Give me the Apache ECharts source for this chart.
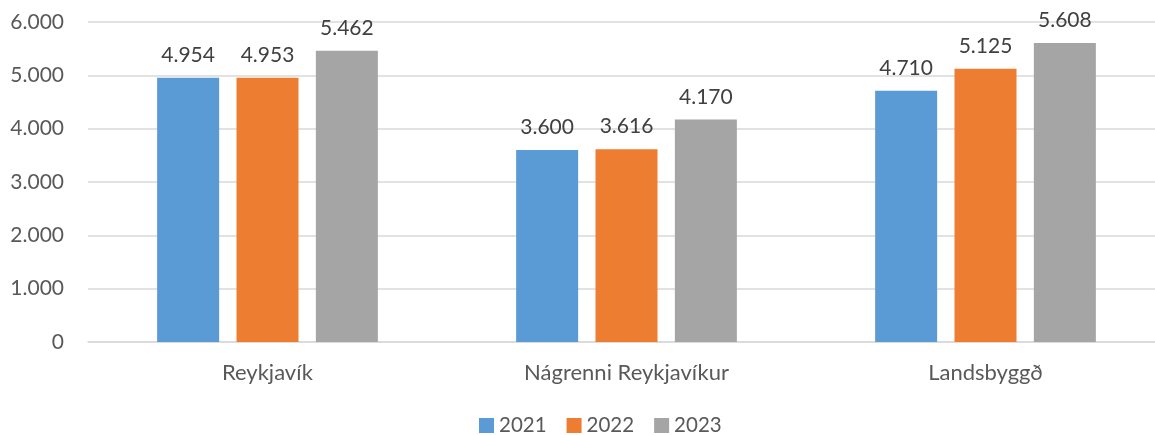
<!DOCTYPE html>
<html><head><meta charset="utf-8">
<script src="https://cdn.jsdelivr.net/npm/echarts@6/dist/echarts.min.js"></script>
<style>html,body{margin:0;padding:0;background:#fff;overflow:hidden}#c{width:1165px;height:435px}</style>
</head><body><div id="c"></div>
<script>
const categories = ['Reykjavík', 'Nágrenni Reykjavíkur', 'Landsbyggð'];
const seriesNames = ['2021', '2022', '2023'];
const values2021 = [4954, 3600, 4710];
const values2022 = [4953, 3616, 5125];
const values2023 = [5462, 4170, 5608];
const colors = ['#5B9BD5', '#ED7D31', '#A5A5A5'];
const fmt = v => v === 0 ? '0' : String(v).replace(/\B(?=(\d{3})+(?!\d))/g, '.');
const font = 'Lato, "Open Sans", sans-serif';
const allVals = [values2021, values2022, values2023];
const chart = echarts.init(document.getElementById('c'));
chart.setOption({
  animation: false,
  grid: {left: 88, right: 0, top: 22, height: 320},
  legend: {bottom: -6, left: 474, itemWidth: 15, itemHeight: 15, itemGap: 20, icon: 'rect',
    textStyle: {fontFamily: font, fontSize: 20.5, color: '#595959'}},
  xAxis: {type: 'category', data: categories,
    axisLine: {lineStyle: {color: '#D9D9D9', width: 1.5}}, axisTick: {show: false},
    axisLabel: {fontFamily: font, fontSize: 22, color: '#595959', margin: 20}},
  yAxis: {type: 'value', min: 0, max: 6000, interval: 1000,
    axisLabel: {fontFamily: font, fontSize: 21, color: '#595959', formatter: fmt, margin: 24},
    splitLine: {lineStyle: {color: '#D9D9D9', width: 1.5}}, axisLine: {show: false}},
  series: seriesNames.map((n, i) => ({
    name: n, type: 'bar', data: allVals[i], barWidth: 62, barGap: '28%',
    itemStyle: {color: colors[i]},
    label: {show: true, position: 'top', distance: 12, formatter: p => fmt(p.value),
      fontFamily: font, fontSize: 21, color: '#404040'}
  }))
});
</script></body></html>
